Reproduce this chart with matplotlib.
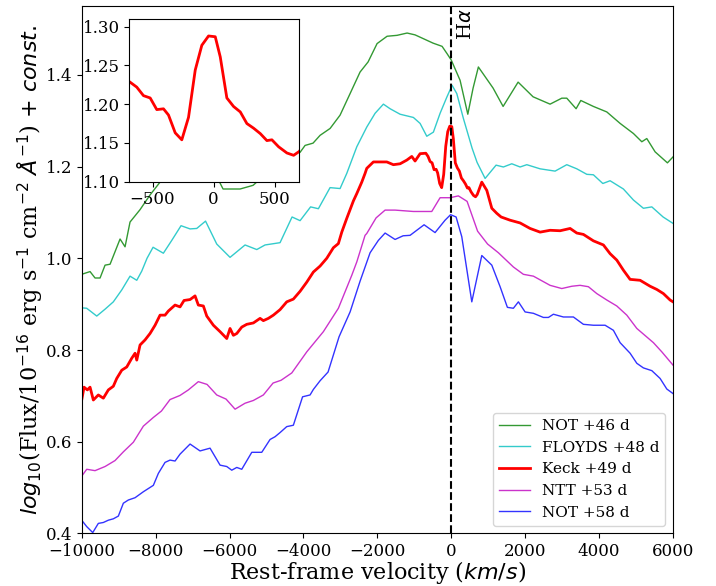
import matplotlib
matplotlib.use("Agg")
import matplotlib.pyplot as plt

plt.rcParams['font.family'] = ['DejaVu Serif']
plt.rcParams['mathtext.fontset'] = 'dejavusans'

# NOT +46 d
not46_v = [-10000, -9774, -9639, -9503, -9368, -9232, -8962, -8827, -8692, -8421, -8151, -7880,
           -7474, -7068, -6662, -6392, -6257, -6175, -5715, -5363, -4903, -4497, -4091, -3956,
           -3740, -3550, -3279, -3009, -2738, -2468, -2251, -2008, -1737, -1467, -1196, -980,
           -763, -493, -249, -114, 0, 238, 447, 590, 733, 1131, 1402, 1808, 2213, 2673, 2990,
           3125, 3377, 3504, 3845, 4208, 4568, 4928, 5155, 5290, 5515, 5848, 6000]
not46_f = [0.965, 0.971, 0.957, 0.957, 0.985, 0.987, 1.042, 1.025, 1.079, 1.106, 1.138, 1.166,
           1.203, 1.225, 1.214, 1.181, 1.164, 1.151, 1.151, 1.159, 1.192, 1.218, 1.231, 1.246,
           1.251, 1.268, 1.283, 1.312, 1.359, 1.406, 1.428, 1.468, 1.484, 1.486, 1.491, 1.487,
           1.479, 1.469, 1.462, 1.446, 1.432, 1.388, 1.314, 1.371, 1.417, 1.371, 1.331, 1.384,
           1.352, 1.336, 1.349, 1.349, 1.326, 1.344, 1.331, 1.319, 1.294, 1.272, 1.254, 1.261,
           1.232, 1.208, 1.221]

# FLOYDS +48 d
floyds_v = [-10000, -9864, -9593, -9368, -9144, -8916, -8692, -8510, -8375, -8232, -8069, -7790,
            -7563, -7312, -7068, -6887, -6649, -6346, -5986, -5580, -5263, -5039, -4633, -4308,
            -4091, -3807, -3596, -3280, -3009, -2828, -2557, -2287, -2062, -1837, -1656, -1385,
            -1026, -844, -663, -484, -303, -122, 22, 149, 327, 563, 698, 915, 1212, 1410, 1637,
            1862, 2043, 2403, 2809, 3125, 3396, 3667, 3845, 4100, 4297, 4657, 4928, 5198, 5426,
            5731, 6000]
floyds_f = [0.892, 0.891, 0.874, 0.889, 0.905, 0.931, 0.961, 0.952, 0.972, 1.000, 1.024, 1.011,
            1.039, 1.071, 1.064, 1.065, 1.081, 1.031, 1.002, 1.029, 1.019, 1.029, 1.034, 1.090,
            1.082, 1.112, 1.108, 1.154, 1.152, 1.185, 1.243, 1.286, 1.316, 1.336, 1.326, 1.314,
            1.307, 1.294, 1.266, 1.275, 1.316, 1.351, 1.377, 1.359, 1.305, 1.240, 1.209, 1.174,
            1.203, 1.199, 1.206, 1.199, 1.204, 1.195, 1.190, 1.204, 1.195, 1.183, 1.182, 1.163,
            1.169, 1.151, 1.127, 1.109, 1.112, 1.090, 1.076]

# Keck +49 d
keck_v = [-10000, -9936, -9847, -9774, -9685, -9550, -9414, -9279, -9144, -9052, -8916, -8781,
          -8646, -8556, -8510, -8421, -8286, -8151, -8015, -7880, -7745, -7655, -7474, -7339,
          -7231, -7068, -6933, -6844, -6708, -6616, -6437, -6256, -6075, -5986, -5896, -5804,
          -5669, -5534, -5355, -5174, -5085, -4949, -4814, -4633, -4452, -4273, -4091, -3910,
          -3732, -3550, -3369, -3190, -3055, -2963, -2828, -2649, -2557, -2422, -2333, -2287,
          -2108, -1927, -1745, -1567, -1385, -1204, -1069, -980, -844,
          -689, -629, -574, -519, -465, -410, -369, -314, -260, -205, -150, -96, -41, 14, 55,
          109, 164, 219, 273, 328, 383, 437, 478, 533, 601, 656, 702,
          825, 961, 1096, 1231, 1348, 1591, 1862, 2132, 2403, 2673, 2944, 3215, 3396, 3575,
          3845, 4116, 4297, 4478, 4657, 4838, 5109, 5380, 5561, 5739, 5920, 6000]
keck_f = [0.691, 0.719, 0.713, 0.719, 0.691, 0.702, 0.695, 0.713, 0.721, 0.738, 0.756, 0.763,
          0.782, 0.793, 0.778, 0.811, 0.822, 0.836, 0.854, 0.876, 0.876, 0.885, 0.898, 0.894,
          0.908, 0.910, 0.918, 0.898, 0.896, 0.874, 0.854, 0.840, 0.825, 0.847, 0.832, 0.836,
          0.850, 0.856, 0.859, 0.869, 0.864, 0.869, 0.876, 0.888, 0.905, 0.911, 0.928, 0.948,
          0.970, 0.983, 1.000, 1.023, 1.032, 1.057, 1.087, 1.125, 1.141, 1.166, 1.185, 1.196,
          1.210, 1.210, 1.210, 1.204, 1.206, 1.214, 1.222, 1.212, 1.228,
          1.229, 1.222, 1.211, 1.208, 1.193, 1.194, 1.186, 1.163, 1.154, 1.183, 1.244, 1.276,
          1.288, 1.287, 1.261, 1.208, 1.197, 1.190, 1.175, 1.169, 1.162, 1.153, 1.154, 1.145,
          1.137, 1.134, 1.139,
          1.166, 1.148, 1.109, 1.098, 1.090, 1.083, 1.077, 1.065, 1.057, 1.061, 1.060, 1.065,
          1.055, 1.052, 1.038, 1.029, 1.010, 0.996, 0.974, 0.954, 0.952, 0.939, 0.932, 0.923,
          0.909, 0.905]

# NTT +53 d
ntt_v = [-10000, -9864, -9639, -9368, -9098, -8873, -8602, -8332, -8061, -7842, -7610, -7339,
         -7114, -6844, -6608, -6346, -6094, -5850, -5580, -5355, -5085, -4822, -4606, -4316,
         -3910, -3461, -3055, -2828, -2692, -2557, -2333, -2287, -2035, -1791, -1521, -1026,
         -528, -303, -32, 192, 428, 712, 982, 1275, 1680, 1951, 2222, 2673, 2990, 3261, 3485,
         3710, 3937, 4208, 4478, 4749, 5020, 5469, 5696, 6000]
ntt_f = [0.525, 0.540, 0.537, 0.546, 0.559, 0.578, 0.599, 0.634, 0.653, 0.667, 0.692, 0.701,
         0.713, 0.731, 0.725, 0.702, 0.693, 0.671, 0.684, 0.690, 0.702, 0.728, 0.734, 0.750,
         0.796, 0.840, 0.891, 0.936, 0.963, 0.992, 1.050, 1.054, 1.088, 1.105, 1.105, 1.102,
         1.102, 1.132, 1.132, 1.136, 1.124, 1.059, 1.031, 1.012, 0.981, 0.965, 0.961, 0.941,
         0.934, 0.939, 0.941, 0.938, 0.923, 0.909, 0.896, 0.876, 0.847, 0.816, 0.796, 0.767]

# NOT +58 d
not58_v = [-10000, -9864, -9701, -9550, -9414, -9279, -9144, -9008, -8873, -8738, -8556, -8332,
           -8061, -7926, -7745, -7610, -7474, -7339, -7068, -6798, -6527, -6256, -6075, -5940,
           -5804, -5669, -5398, -5128, -4903, -4768, -4633, -4452, -4273, -4024, -3821, -3732,
           -3550, -3334, -3036, -2738, -2468, -2197, -1973, -1791, -1521, -1304, -1115, -934,
           -736, -439, -168, -19, 130, 284, 555, 825, 1096, 1321, 1518, 1680, 1816, 1997, 2222,
           2492, 2628, 2763, 3033, 3304, 3575, 3845, 4162, 4386, 4568, 4838, 5020, 5198, 5426,
           5650, 5831, 6000]
not58_f = [0.429, 0.415, 0.402, 0.422, 0.424, 0.429, 0.432, 0.438, 0.466, 0.473, 0.478, 0.491,
           0.505, 0.531, 0.555, 0.560, 0.558, 0.573, 0.595, 0.580, 0.586, 0.549, 0.546, 0.538,
           0.544, 0.540, 0.577, 0.577, 0.605, 0.611, 0.620, 0.633, 0.636, 0.698, 0.702, 0.714,
           0.733, 0.752, 0.829, 0.883, 0.950, 1.012, 1.039, 1.055, 1.041, 1.049, 1.050, 1.061,
           1.073, 1.056, 1.083, 1.095, 1.090, 1.047, 0.905, 1.006, 0.985, 0.938, 0.893, 0.891,
           0.905, 0.883, 0.880, 0.871, 0.871, 0.878, 0.872, 0.872, 0.856, 0.854, 0.854, 0.843,
           0.816, 0.793, 0.771, 0.761, 0.755, 0.738, 0.715, 0.705]

series = [
    ("NOT +46 d", not46_v, not46_f, "g", 1.0, 0.8),
    ("FLOYDS +48 d", floyds_v, floyds_f, "c", 1.0, 0.8),
    ("Keck +49 d", keck_v, keck_f, "r", 2.0, 1.0),
    ("NTT +53 d", ntt_v, ntt_f, "m", 1.0, 0.8),
    ("NOT +58 d", not58_v, not58_f, "b", 1.0, 0.8),
]

fig = plt.figure(figsize=(7.16, 5.86), dpi=100)
ax = fig.add_axes([0.1141, 0.0896, 0.8259, 0.9002])

for label, v, f, c, lw, a in series:
    ax.plot(v, f, color=c, lw=lw, alpha=a, label=label)

ax.axvline(0, color='k', ls='--', lw=1.5)
ax.text(150, 1.545, r'H$\alpha$', rotation=90, va='top', ha='left', fontsize=14)

ax.set_xlim(-10000, 6000)
ax.set_ylim(0.4, 1.55)
ax.set_xticks([-10000, -8000, -6000, -4000, -2000, 0, 2000, 4000, 6000])
ax.set_yticks([0.4, 0.6, 0.8, 1.0, 1.2, 1.4])
ax.tick_params(labelsize=12)
ax.set_xlabel(r'Rest-frame velocity ($km/s$)', fontsize=16, labelpad=-1)
ax.set_ylabel(r'$log_{10}$(Flux/10$^{-16}$ erg s$^{-1}$ cm$^{-2}$ $\AA^{-1}$) + $const.$',
              fontsize=16, labelpad=0)
ax.legend(loc='lower right', fontsize=11)

axin = fig.add_axes([0.1806, 0.690, 0.237, 0.2777])
axin.plot(keck_v, keck_f, color='r', lw=2.0)
axin.set_xlim(-690, 700)
axin.set_ylim(1.10, 1.31)
axin.set_xticks([-500, 0, 500])
axin.set_yticks([1.10, 1.15, 1.20, 1.25, 1.30])
axin.tick_params(labelsize=12)

fig.savefig('out.png', dpi=100)
